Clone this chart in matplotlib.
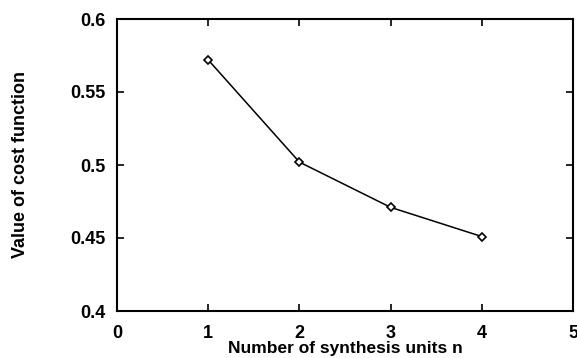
import matplotlib.pyplot as plt

plt.rcParams["font.family"] = ["Liberation Sans", "DejaVu Sans"]
plt.rcParams["font.weight"] = "bold"

n_units = [1, 2, 3, 4]
cost = [0.572, 0.502, 0.471, 0.451]

xticks = [0, 1, 2, 3, 4, 5]
yticks = [0.4, 0.45, 0.5, 0.55, 0.6]
yticklabels = ["0.4", "0.45", "0.5", "0.55", "0.6"]

fig = plt.figure(figsize=(5.77, 3.58), dpi=100)
ax = fig.add_axes([117 / 577, 1 - 311 / 358, (573 - 117) / 577, (311 - 19) / 358])

ax.plot(n_units, cost, color="black", linewidth=1.1, marker="D", markersize=4.5,
        markerfacecolor="white", markeredgecolor="black", markeredgewidth=1.2)

ax.set_xlim(0, 5)
ax.set_ylim(0.4, 0.6)
ax.set_xticks(xticks)
ax.set_yticks(yticks)
ax.set_yticklabels(yticklabels)
ax.tick_params(direction="in", top=True, right=True, length=5, width=1.2,
               labelsize=13)
ax.tick_params(axis="x", pad=10)
ax.tick_params(axis="y", pad=8)
for s in ax.spines.values():
    s.set_linewidth(1.5)

ax.set_xlabel("Number of synthesis units n", fontsize=12.5, fontweight="bold", labelpad=-1)
ax.set_ylabel("Value of cost function", fontsize=13, fontweight="bold", labelpad=30)

fig.savefig("out.png", dpi=100)
